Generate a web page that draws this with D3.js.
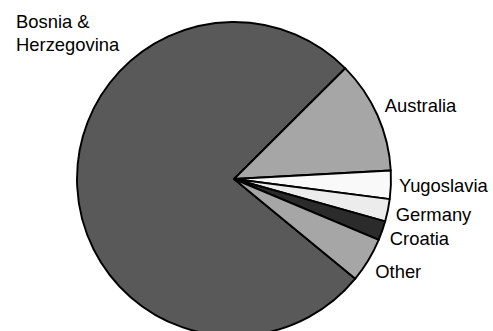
<!DOCTYPE html>
<html>
<head>
<meta charset="utf-8">
<script src="https://cdn.jsdelivr.net/npm/d3@7"></script>
<style>
  html, body { margin: 0; padding: 0; background: #fff; }
  svg { display: block; }
  text { font-family: "Liberation Sans", Arial, sans-serif; font-size: 18.4px; fill: #000; }
</style>
</head>
<body>
<svg id="chart" width="493" height="331"></svg>
<script>
// Data
const categories = ["Bosnia & Herzegovina", "Australia", "Yugoslavia", "Germany", "Croatia", "Other"];
const values = [76.6, 11.6, 2.9, 2.3, 2.0, 4.6];
const colors = ["#595959", "#a6a6a6", "#f9f9f9", "#ececec", "#2b2b2b", "#a6a6a6"];

// Layout
const W = 493, H = 331;
const cx = 234, cy = 179, R = 157;
const startDeg = 129.4;
const labelR = 165;

const svg = d3.select("#chart");
const g = svg.append("g").attr("transform", `translate(${cx},${cy})`);

const pie = d3.pie().sort(null).value(d => d)
  .startAngle(startDeg * Math.PI / 180)
  .endAngle((startDeg + 360) * Math.PI / 180);
const arcs = pie(values);
const arc = d3.arc().innerRadius(0).outerRadius(R);

g.selectAll("path.slice").data(arcs).enter().append("path")
  .attr("class", "slice")
  .attr("d", arc)
  .attr("fill", (d, i) => colors[i])
  .attr("stroke", "#000")
  .attr("stroke-width", 1.9)
  .attr("stroke-linejoin", "round");

// Labels
arcs.forEach((d, i) => {
  if (i === 0) {
    // Large slice label placed in the upper-left corner
    const t = svg.append("text");
    t.append("tspan").attr("x", 16).attr("y", 28).text("Bosnia &");
    t.append("tspan").attr("x", 16).attr("y", 51).text("Herzegovina");
    return;
  }
  const a = (d.startAngle + d.endAngle) / 2;
  const px = Math.sin(a) * labelR;
  const py = -Math.cos(a) * labelR;
  const yShift = -Math.cos(a) * 15;
  g.append("text")
    .attr("x", px)
    .attr("y", py + yShift)
    .attr("dy", "0.35em")
    .attr("text-anchor", "start")
    .text(categories[i]);
});
</script>
</body>
</html>
